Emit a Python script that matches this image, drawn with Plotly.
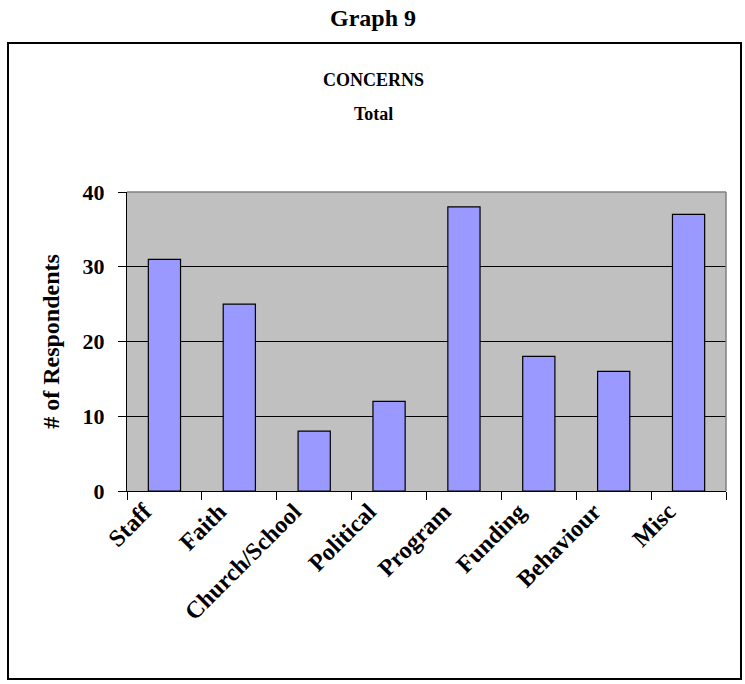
import plotly.graph_objects as go

categories = ["Staff", "Faith", "Church/School", "Political", "Program",
              "Funding", "Behaviour", "Misc"]
respondents = [31, 25, 8, 12, 38, 18, 16, 37]
y_ticks = [0, 10, 20, 30, 40]

FONT = "Liberation Serif, Times New Roman, serif"

W, H = 745, 684
L, R, T, B = 127, 19, 192, 193
pw, ph = W - L - R, H - T - B


def px_x(x):
    return (x - L) / pw


def px_y(y):
    return (H - B - y) / ph


fig = go.Figure(go.Bar(
    x=categories,
    y=respondents,
    marker=dict(color="#9999FF", line=dict(color="#000000", width=1.2)),
    hoverinfo="x+y",
))

fig.update_layout(
    width=W, height=H,
    margin=dict(l=L, r=R, t=T, b=B),
    paper_bgcolor="white",
    plot_bgcolor="#C0C0C0",
    bargap=0.57,
    showlegend=False,
    font=dict(family=FONT, color="black"),
    xaxis=dict(
        type="category",
        tickangle=-45,
        tickfont=dict(family=FONT, size=24, color="black", weight="bold"),
        ticks="outside", ticklen=8, tickcolor="black", tickwidth=1,
        tickson="boundaries",
        ticklabelshift=-20,
        ticklabelstandoff=-4,
        showline=True, linecolor="black", linewidth=1,
        showgrid=False,
        mirror=False,
    ),
    yaxis=dict(
        range=[0, 40],
        tickvals=y_ticks,
        tickfont=dict(family=FONT, size=22, color="black", weight="bold"),
        ticks="outside", ticklen=8, tickcolor="black", tickwidth=1,
        ticklabelstandoff=9,
        showline=True, linecolor="black", linewidth=1,
        showgrid=True, gridcolor="black", gridwidth=1,
        zeroline=False,
        title=dict(text="<b># of Respondents</b>",
                   font=dict(family=FONT, size=24, color="black"),
                   standoff=16),
    ),
    annotations=[
        dict(text="<b>Graph 9</b>", xref="paper", yref="paper",
             x=px_x(W / 2), y=px_y(18), yanchor="middle", showarrow=False,
             font=dict(family=FONT, size=24, color="black")),
        dict(text="<b>CONCERNS</b>", xref="paper", yref="paper",
             x=px_x(373), y=px_y(80), yanchor="middle", showarrow=False,
             font=dict(family=FONT, size=18, color="black")),
        dict(text="<b>Total</b>", xref="paper", yref="paper",
             x=px_x(373), y=px_y(114), yanchor="middle", showarrow=False,
             font=dict(family=FONT, size=18, color="black")),
    ],
    shapes=[
        # outer frame around the chart
        dict(type="rect", xref="paper", yref="paper",
             x0=px_x(8), x1=px_x(741), y0=px_y(679), y1=px_y(43),
             line=dict(color="black", width=2), layer="below"),
        # grey top and right edges of the plot area
        dict(type="line", xref="paper", yref="paper",
             x0=0, x1=1, y0=1, y1=1,
             line=dict(color="#808080", width=1.5)),
        dict(type="line", xref="paper", yref="paper",
             x0=1, x1=1, y0=0, y1=1,
             line=dict(color="#808080", width=1.5)),
    ],
)

fig.write_html("out.html")
